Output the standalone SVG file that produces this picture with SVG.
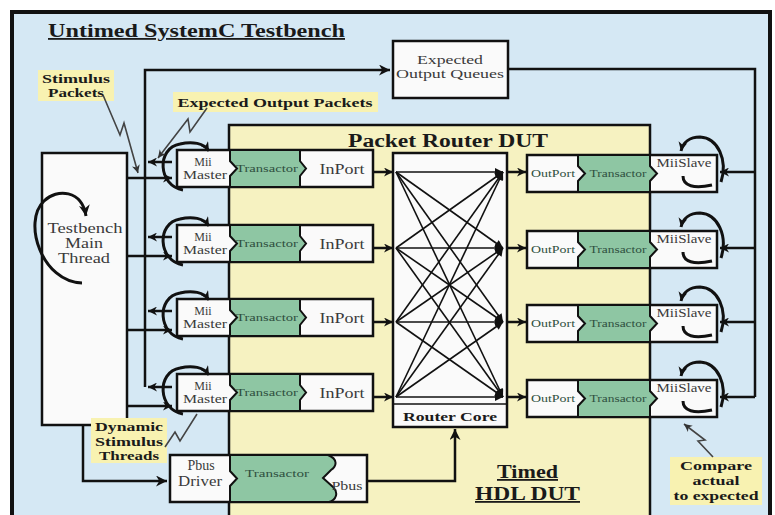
<svg xmlns="http://www.w3.org/2000/svg" width="775" height="515" viewBox="0 0 775 515">
  <defs>
    <style>
      .frame { fill: #d5e8f4; stroke: #111; stroke-width: 4; }
      .dut { fill: #f6f2c1; stroke: #111; stroke-width: 2.5; }
      .box { fill: #fafafa; stroke: #111; stroke-width: 2.5; }
      .xact { fill: #8ec6a3; stroke: #111; stroke-width: 2; stroke-linejoin: miter; }
      .wire { fill: none; stroke: #111; stroke-width: 2.5; }
      .thin { fill: none; stroke: #111; stroke-width: 1.6; }
      .loop { fill: none; stroke: #111; stroke-width: 3; }
      .bolt { fill: none; stroke: #444; stroke-width: 1.6; stroke-linejoin: miter; }
      .note { fill: #f8f2b1; }
      text { font-family: "Liberation Serif", "Times New Roman", serif; }
      .title { font-weight: bold; font-size: 18px; fill: #1a1a1a; text-decoration: underline; }
      .head { font-weight: bold; font-size: 18px; fill: #1a1a1a; }
      .call { font-weight: bold; font-size: 13px; fill: #1a1a1a; text-anchor: middle; }
      .lbl { font-size: 12px; fill: #3a3a3a; text-anchor: middle; }
      .lblg { font-size: 11px; fill: #2f5040; text-anchor: middle; }
      .port { font-size: 14px; fill: #3a3a3a; text-anchor: middle; }
    </style>
    <marker id="ah" viewBox="0 0 10 10" refX="10" refY="5" markerWidth="10" markerHeight="9" markerUnits="userSpaceOnUse" orient="auto">
      <path d="M0,0 L10,5 L0,10 L3,5 z" fill="#111"/>
    </marker>
    <marker id="ahBig" viewBox="0 0 10 10" refX="10" refY="5" markerWidth="16" markerHeight="11" markerUnits="userSpaceOnUse" orient="auto">
      <path d="M0,0 L10,5 L0,10 L3,5 z" fill="#111"/>
    </marker>
    <marker id="ahSmall" viewBox="0 0 10 10" refX="10" refY="5" markerWidth="9" markerHeight="8" markerUnits="userSpaceOnUse" orient="auto">
      <path d="M0,0 L10,5 L0,10 z" fill="#111"/>
    </marker>
    <marker id="ahGray" viewBox="0 0 10 10" refX="10" refY="5" markerWidth="9" markerHeight="8" markerUnits="userSpaceOnUse" orient="auto">
      <path d="M0,0 L10,5 L0,10 L3,5 z" fill="#333"/>
    </marker>
  </defs>

  <!-- testbench frame -->
  <rect class="frame" x="12" y="12" width="758" height="520"/>
  <text class="title" x="48" y="37" textLength="297" lengthAdjust="spacingAndGlyphs">Untimed SystemC Testbench</text>

  <!-- DUT region -->
  <g id="dut">
    <rect class="dut" x="229" y="125" width="421" height="410"/>
    <text class="head" x="348" y="147" textLength="200" lengthAdjust="spacingAndGlyphs">Packet Router DUT</text>
    <text class="head" x="497" y="478" textLength="61" lengthAdjust="spacingAndGlyphs" text-decoration="underline">Timed</text>
    <text class="head" x="475" y="500" textLength="105" lengthAdjust="spacingAndGlyphs" text-decoration="underline">HDL DUT</text>
  </g>

  <!-- testbench main thread -->
  <g id="main-thread">
    <rect class="box" x="42" y="153" width="85" height="272" stroke-width="3"/>
    <text class="port" x="85" y="233" textLength="75" lengthAdjust="spacingAndGlyphs">Testbench</text>
    <text class="port" x="84" y="248" textLength="38" lengthAdjust="spacingAndGlyphs">Main</text>
    <text class="port" x="84" y="263" textLength="52" lengthAdjust="spacingAndGlyphs">Thread</text>
  </g>

  <!-- expected output queues -->
  <g id="expected-queues">
    <rect class="box" x="393" y="41" width="115" height="57" stroke-width="3"/>
    <text class="lbl" x="450" y="64" font-size="13" textLength="66" lengthAdjust="spacingAndGlyphs">Expected</text>
    <text class="lbl" x="450" y="78" font-size="13" textLength="108" lengthAdjust="spacingAndGlyphs">Output Queues</text>
  </g>

  <!-- input channels: Mii Master / Transactor / InPort -->
  <g id="in-0">
    <rect class="box" x="177" y="150" width="196" height="37"/>
    <path class="xact" d="M230,150 L300,150 L300,161 L306,168.5 L300,176 L300,187 L230,187 L230,176 L237,168.5 L230,161 Z"/>
    <text class="lbl" x="203" y="166">Mii</text>
    <text class="lbl" x="205" y="179" textLength="44" lengthAdjust="spacingAndGlyphs">Master</text>
    <text class="lblg" x="267" y="172" textLength="62" lengthAdjust="spacingAndGlyphs">Transactor</text>
    <text class="port" x="342" y="174" textLength="45" lengthAdjust="spacingAndGlyphs">InPort</text>
  </g>
  <g id="in-1">
    <rect class="box" x="177" y="225" width="196" height="37"/>
    <path class="xact" d="M230,225 L300,225 L300,236 L306,243.5 L300,251 L300,262 L230,262 L230,251 L237,243.5 L230,236 Z"/>
    <text class="lbl" x="203" y="241">Mii</text>
    <text class="lbl" x="205" y="254" textLength="44" lengthAdjust="spacingAndGlyphs">Master</text>
    <text class="lblg" x="267" y="247" textLength="62" lengthAdjust="spacingAndGlyphs">Transactor</text>
    <text class="port" x="342" y="249" textLength="45" lengthAdjust="spacingAndGlyphs">InPort</text>
  </g>
  <g id="in-2">
    <rect class="box" x="177" y="299" width="196" height="37"/>
    <path class="xact" d="M230,299 L300,299 L300,310 L306,317.5 L300,325 L300,336 L230,336 L230,325 L237,317.5 L230,310 Z"/>
    <text class="lbl" x="203" y="315">Mii</text>
    <text class="lbl" x="205" y="328" textLength="44" lengthAdjust="spacingAndGlyphs">Master</text>
    <text class="lblg" x="267" y="321" textLength="62" lengthAdjust="spacingAndGlyphs">Transactor</text>
    <text class="port" x="342" y="323" textLength="45" lengthAdjust="spacingAndGlyphs">InPort</text>
  </g>
  <g id="in-3">
    <rect class="box" x="177" y="374" width="196" height="37"/>
    <path class="xact" d="M230,374 L300,374 L300,385 L306,392.5 L300,400 L300,411 L230,411 L230,400 L237,392.5 L230,385 Z"/>
    <text class="lbl" x="203" y="390">Mii</text>
    <text class="lbl" x="205" y="403" textLength="44" lengthAdjust="spacingAndGlyphs">Master</text>
    <text class="lblg" x="267" y="396" textLength="62" lengthAdjust="spacingAndGlyphs">Transactor</text>
    <text class="port" x="342" y="398" textLength="45" lengthAdjust="spacingAndGlyphs">InPort</text>
  </g>

  <!-- output channels: OutPort / Transactor / MiiSlave -->
  <g id="out-0">
    <rect class="box" x="527" y="155" width="190" height="37"/>
    <path class="xact" d="M578,155 L650,155 L650,166 L657,173.5 L650,181 L650,192 L578,192 L578,181 L585,173.5 L578,166 Z"/>
    <text class="lblg" x="553" y="177" fill="#3a3a3a" textLength="44" lengthAdjust="spacingAndGlyphs">OutPort</text>
    <text class="lblg" x="618" y="177" textLength="57" lengthAdjust="spacingAndGlyphs">Transactor</text>
    <text class="lbl" x="684" y="167" textLength="55" lengthAdjust="spacingAndGlyphs">MiiSlave</text>
  </g>
  <g id="out-1">
    <rect class="box" x="527" y="231" width="190" height="37"/>
    <path class="xact" d="M578,231 L650,231 L650,242 L657,249.5 L650,257 L650,268 L578,268 L578,257 L585,249.5 L578,242 Z"/>
    <text class="lblg" x="553" y="253" fill="#3a3a3a" textLength="44" lengthAdjust="spacingAndGlyphs">OutPort</text>
    <text class="lblg" x="618" y="253" textLength="57" lengthAdjust="spacingAndGlyphs">Transactor</text>
    <text class="lbl" x="684" y="243" textLength="55" lengthAdjust="spacingAndGlyphs">MiiSlave</text>
  </g>
  <g id="out-2">
    <rect class="box" x="527" y="305" width="190" height="37"/>
    <path class="xact" d="M578,305 L650,305 L650,316 L657,323.5 L650,331 L650,342 L578,342 L578,331 L585,323.5 L578,316 Z"/>
    <text class="lblg" x="553" y="327" fill="#3a3a3a" textLength="44" lengthAdjust="spacingAndGlyphs">OutPort</text>
    <text class="lblg" x="618" y="327" textLength="57" lengthAdjust="spacingAndGlyphs">Transactor</text>
    <text class="lbl" x="684" y="317" textLength="55" lengthAdjust="spacingAndGlyphs">MiiSlave</text>
  </g>
  <g id="out-3">
    <rect class="box" x="527" y="380" width="190" height="37"/>
    <path class="xact" d="M578,380 L650,380 L650,391 L657,398.5 L650,406 L650,417 L578,417 L578,406 L585,398.5 L578,391 Z"/>
    <text class="lblg" x="553" y="402" fill="#3a3a3a" textLength="44" lengthAdjust="spacingAndGlyphs">OutPort</text>
    <text class="lblg" x="618" y="402" textLength="57" lengthAdjust="spacingAndGlyphs">Transactor</text>
    <text class="lbl" x="684" y="392" textLength="55" lengthAdjust="spacingAndGlyphs">MiiSlave</text>
  </g>

  <!-- Pbus channel -->
  <g id="pbus">
    <rect class="box" x="170" y="455" width="197" height="47"/>
    <path class="xact" d="M230,455 L328,455 C338,459 337,466 331,470 L323,478 L333,487 C339,493 336,500 329,502 L230,502 L230,486 L237,478.5 L230,471 Z"/>
    <text class="port" x="201" y="470">Pbus</text>
    <text class="port" x="200" y="486" textLength="44" lengthAdjust="spacingAndGlyphs">Driver</text>
    <text class="lblg" x="277" y="477" textLength="64" lengthAdjust="spacingAndGlyphs">Transactor</text>
    <text class="lbl" x="347" y="490" textLength="31" lengthAdjust="spacingAndGlyphs">Pbus</text>
  </g>

  <!-- router core crossbar -->
  <g id="router-core">
    <rect class="box" x="393" y="153" width="114" height="274" stroke-width="3"/>
    <line class="thin" x1="393" y1="404" x2="507" y2="404" stroke-width="2"/>
    <text class="call" x="450" y="421" textLength="94" lengthAdjust="spacingAndGlyphs">Router Core</text>
    <g class="thin" marker-end="url(#ahSmall)">
      <path d="M396,172 L503,172"/><path d="M396,172 L503,248"/><path d="M396,172 L503,322"/><path d="M396,172 L503,397"/>
      <path d="M396,248 L503,172"/><path d="M396,248 L503,248"/><path d="M396,248 L503,322"/><path d="M396,248 L503,397"/>
      <path d="M396,322 L503,172"/><path d="M396,322 L503,248"/><path d="M396,322 L503,322"/><path d="M396,322 L503,397"/>
      <path d="M396,397 L503,172"/><path d="M396,397 L503,248"/><path d="M396,397 L503,322"/><path d="M396,397 L503,397"/>
    </g>
  </g>

  <!-- connectors -->
  <g id="connectors">
    <!-- expected packets bus to queues -->
    <path class="wire" d="M145,387 V70 H390" marker-end="url(#ahBig)"/>
    <!-- queues to the checking slaves -->
    <path class="wire" d="M508,69 H755 V397"/>
    <path class="wire" d="M755,172 H720" marker-end="url(#ah)"/>
    <path class="wire" d="M755,248 H720" marker-end="url(#ah)"/>
    <path class="wire" d="M755,322 H720" marker-end="url(#ah)"/>
    <path class="wire" d="M755,397 H720" marker-end="url(#ah)"/>

    <!-- masters report expected packets -->
    <path class="wire" d="M172,162 H148" marker-end="url(#ah)"/>
    <path class="wire" d="M172,237 H148" marker-end="url(#ah)"/>
    <path class="wire" d="M172,311 H148" marker-end="url(#ah)"/>
    <path class="wire" d="M172,387 H148" marker-end="url(#ah)"/>

    <!-- main thread drives masters -->
    <path class="wire" d="M127,178 H172" marker-end="url(#ah)"/>
    <path class="wire" d="M127,256 H172" marker-end="url(#ah)"/>
    <path class="wire" d="M127,330 H172" marker-end="url(#ah)"/>
    <path class="wire" d="M127,406 H172" marker-end="url(#ah)"/>

    <!-- main thread drives Pbus -->
    <path class="wire" d="M83,425 V481 H167" marker-end="url(#ahBig)"/>

    <!-- InPort to router core -->
    <path class="wire" d="M373,172 H393" marker-end="url(#ah)"/>
    <path class="wire" d="M373,248 H393" marker-end="url(#ah)"/>
    <path class="wire" d="M373,322 H393" marker-end="url(#ah)"/>
    <path class="wire" d="M373,397 H393" marker-end="url(#ah)"/>

    <!-- router core to OutPort -->
    <path class="wire" d="M507,172 H526" marker-end="url(#ah)"/>
    <path class="wire" d="M507,248 H526" marker-end="url(#ah)"/>
    <path class="wire" d="M507,322 H526" marker-end="url(#ah)"/>
    <path class="wire" d="M507,397 H526" marker-end="url(#ah)"/>

    <!-- Pbus configures router core -->
    <path class="wire" d="M367,481 H455 V429" marker-end="url(#ahBig)"/>

    <!-- thread loops -->
    <path class="loop" d="M82,283 C42,282 22,222 44,201 C57,188 82,190 86,216" marker-end="url(#ahBig)"/>
    <path class="loop" d="M183,190 C158,186 156,148 180,144 C192,141 204,143 209,151" marker-end="url(#ah)"/>
    <path class="loop" d="M183,265 C158,261 156,223 180,219 C192,216 204,218 209,226" marker-end="url(#ah)"/>
    <path class="loop" d="M183,339 C158,335 156,297 180,293 C192,290 204,292 209,300" marker-end="url(#ah)"/>
    <path class="loop" d="M183,414 C158,410 156,372 180,368 C192,365 204,367 209,375" marker-end="url(#ah)"/>

    <path class="loop" d="M721,182 C728,160 718,138 700,137 C690,137 683,142 681,151" marker-end="url(#ah)"/>
    <path class="loop" d="M683,176 C683,186 694,189 712,185"/>
    <path class="loop" d="M721,258 C728,236 718,214 700,213 C690,213 683,218 681,227" marker-end="url(#ah)"/>
    <path class="loop" d="M683,252 C683,262 694,265 712,261"/>
    <path class="loop" d="M721,332 C728,310 718,288 700,287 C690,287 683,292 681,301" marker-end="url(#ah)"/>
    <path class="loop" d="M683,326 C683,336 694,339 712,335"/>
    <path class="loop" d="M721,407 C728,385 718,363 700,362 C690,362 683,367 681,376" marker-end="url(#ah)"/>
    <path class="loop" d="M683,401 C683,411 694,414 712,410"/>
  </g>

  <!-- callout notes -->
  <g id="note-stimulus">
    <rect class="note" x="38" y="70" width="76" height="31"/>
    <text class="call" x="76" y="83" font-size="12" textLength="68" lengthAdjust="spacingAndGlyphs">Stimulus</text>
    <text class="call" x="76" y="97" font-size="12" textLength="56" lengthAdjust="spacingAndGlyphs">Packets</text>
    <path class="bolt" d="M103,95 L120,135 L124,123 L138,173" marker-end="url(#ahGray)"/>
  </g>
  <g id="note-expected">
    <rect class="note" x="173" y="92" width="205" height="20"/>
    <text class="call" x="275" y="107" textLength="195" lengthAdjust="spacingAndGlyphs">Expected Output Packets</text>
    <path class="bolt" d="M207,108 L190,132 L188,119 L158,158" marker-end="url(#ahGray)"/>
  </g>
  <g id="note-dynamic">
    <rect class="note" x="91" y="418" width="76" height="45"/>
    <text class="call" x="129" y="431" textLength="68" lengthAdjust="spacingAndGlyphs">Dynamic</text>
    <text class="call" x="129" y="446" textLength="68" lengthAdjust="spacingAndGlyphs">Stimulus</text>
    <text class="call" x="129" y="460" textLength="60" lengthAdjust="spacingAndGlyphs">Threads</text>
    <path class="bolt" d="M165,447 L175,432 L180,441 L197,414"/>
  </g>
  <g id="note-compare">
    <rect class="note" x="670" y="457" width="92" height="48"/>
    <text class="call" x="716" y="470" textLength="72" lengthAdjust="spacingAndGlyphs">Compare</text>
    <text class="call" x="716" y="485" textLength="47" lengthAdjust="spacingAndGlyphs">actual</text>
    <text class="call" x="716" y="500" textLength="85" lengthAdjust="spacingAndGlyphs">to expected</text>
    <path class="bolt" d="M713,457 L698,441 L705,440 L684,424" marker-end="url(#ahGray)"/>
  </g>
</svg>
